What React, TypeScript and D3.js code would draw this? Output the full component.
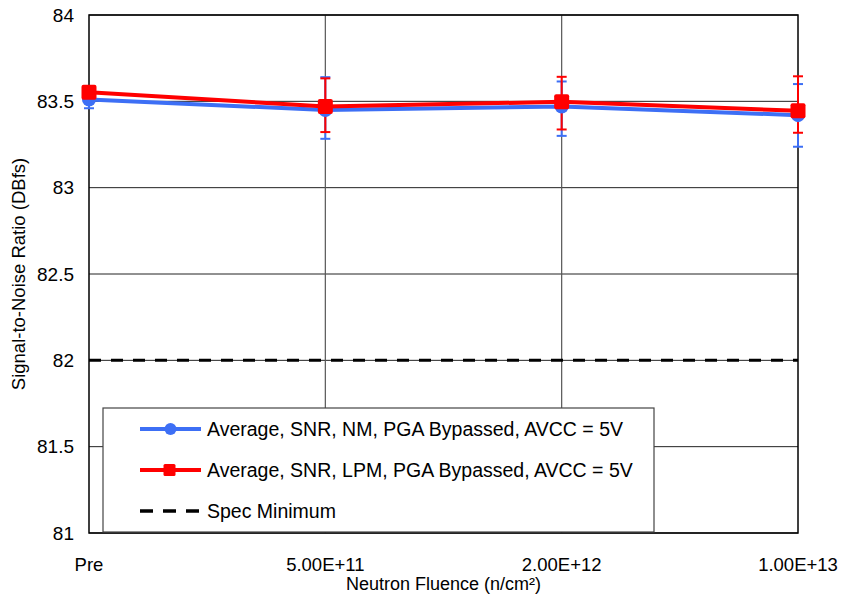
import React from 'react';
import * as d3 from 'd3';

const categories = ['Pre', '5.00E+11', '2.00E+12', '1.00E+13'];
const yTicks = [81, 81.5, 82, 82.5, 83, 83.5, 84];

const nmValues = [83.51, 83.45, 83.47, 83.42];
const nmErrPlus = [0.05, 0.19, 0.145, 0.18];
const nmErrMinus = [0.05, 0.167, 0.17, 0.183];

const lpmValues = [83.553, 83.47, 83.497, 83.445];
const lpmErrPlus = [0.03, 0.163, 0.145, 0.2];
const lpmErrMinus = [0.03, 0.148, 0.16, 0.127];

const specMinimum = 82;

const legendLabels = [
    'Average, SNR, NM, PGA Bypassed, AVCC = 5V',
    'Average, SNR, LPM, PGA Bypassed, AVCC = 5V',
    'Spec Minimum',
];

const BLUE = '#3d6ff5';
const RED = '#ff0000';
const FONT = 'Liberation Sans, Arial, sans-serif';

const App = () => {
    const width = 841;
    const height = 599;
    const margin = { top: 15, right: 43, bottom: 66, left: 89 };

    const x = d3.scalePoint()
        .domain(categories)
        .range([margin.left, width - margin.right]);

    const y = d3.scaleLinear()
        .domain([81, 84])
        .range([height - margin.bottom, margin.top]);

    const series = [
        { name: 'nm', values: nmValues, plus: nmErrPlus, minus: nmErrMinus, color: BLUE },
        { name: 'lpm', values: lpmValues, plus: lpmErrPlus, minus: lpmErrMinus, color: RED },
    ];

    const line = d3.line<number>()
        .x((_, i) => x(categories[i]) as number)
        .y(d => y(d));

    const x0 = margin.left;
    const x1 = width - margin.right;
    const yTop = margin.top;
    const yBot = height - margin.bottom;

    // legend box
    const lg = { x: 103, y: 408, w: 551, h: 124 };
    const rowY = (i: number) => lg.y + 21 + i * 41;

    return (
        <svg width={width} height={height} style={{ position: 'absolute', left: 0, top: 0, background: '#fff' }}
            fontFamily={FONT}>
            {/* horizontal gridlines */}
            {yTicks.map(t => (
                <line key={t} x1={x0} x2={x1} y1={y(t)} y2={y(t)} stroke="#222" strokeWidth={1} />
            ))}
            {/* vertical gridlines */}
            {categories.slice(1, -1).map(c => (
                <line key={c} x1={x(c)} x2={x(c)} y1={yTop} y2={yBot} stroke="#555" strokeWidth={1.2} />
            ))}
            <rect x={x0} y={yTop} width={x1 - x0} height={yBot - yTop} fill="none" stroke="#000" strokeWidth={1.5} />

            {/* spec line */}
            <line x1={x0} x2={x1} y1={y(specMinimum)} y2={y(specMinimum)} stroke="#000" strokeWidth={3}
                strokeDasharray="12,10" />

            {/* y tick labels */}
            {yTicks.map(t => (
                <text key={t} x={74} y={y(t)} dy="0.35em" textAnchor="end" fontSize={19} fill="#000">{t}</text>
            ))}
            {/* x tick labels */}
            {categories.map(c => (
                <text key={c} x={x(c)} y={571} textAnchor="middle" fontSize={18.5} fill="#000">{c}</text>
            ))}

            <text x={(x0 + x1) / 2} y={590} textAnchor="middle" fontSize={18} fill="#000">Neutron Fluence (n/cm²)</text>
            <text transform={`translate(25,${(yTop + yBot) / 2}) rotate(-90)`} textAnchor="middle" fontSize={18.5} fill="#000">
                Signal-to-Noise Ratio (DBfs)
            </text>

            {/* error bars */}
            {series.map(s => (
                <g key={s.name + '-err'} stroke={s.color} strokeWidth={2}>
                    {s.values.map((v, i) => {
                        const cx = x(categories[i]) as number;
                        const hi = y(v + s.plus[i]);
                        const lo = y(v - s.minus[i]);
                        return (
                            <g key={i}>
                                <line x1={cx} x2={cx} y1={hi} y2={lo} />
                                <line x1={cx - 5} x2={cx + 5} y1={hi} y2={hi} />
                                <line x1={cx - 5} x2={cx + 5} y1={lo} y2={lo} />
                            </g>
                        );
                    })}
                </g>
            ))}

            {/* lines and markers */}
            {series.map(s => (
                <g key={s.name}>
                    <path d={line(s.values) as string} fill="none" stroke={s.color} strokeWidth={4} strokeLinejoin="round" />
                    {s.values.map((v, i) => {
                        const cx = x(categories[i]) as number;
                        return s.name === 'nm'
                            ? <circle key={i} cx={cx} cy={y(v)} r={7} fill={s.color} />
                            : <rect key={i} x={cx - 7.5} y={y(v) - 7.5} width={15} height={15} rx={2} fill={s.color} />;
                    })}
                </g>
            ))}

            {/* legend */}
            <rect x={lg.x} y={lg.y} width={lg.w} height={lg.h} fill="#fff" stroke="#444" strokeWidth={1.2} />
            {legendLabels.map((label, i) => {
                const ly = rowY(i);
                return (
                    <g key={label}>
                        {i === 0 && (
                            <g>
                                <line x1={140} x2={201} y1={ly} y2={ly} stroke={BLUE} strokeWidth={4} />
                                <circle cx={170.5} cy={ly} r={6} fill={BLUE} />
                            </g>
                        )}
                        {i === 1 && (
                            <g>
                                <line x1={140} x2={201} y1={ly} y2={ly} stroke={RED} strokeWidth={4} />
                                <rect x={163.5} y={ly - 6} width={12} height={12} rx={1.5} fill={RED} />
                            </g>
                        )}
                        {i === 2 && (
                            <line x1={140} x2={201} y1={ly} y2={ly} stroke="#000" strokeWidth={3.5} strokeDasharray="13,10" />
                        )}
                        <text x={207} y={ly} dy="0.36em" fontSize={19.5} fill="#000">{label}</text>
                    </g>
                );
            })}
        </svg>
    );
};

export default App;
